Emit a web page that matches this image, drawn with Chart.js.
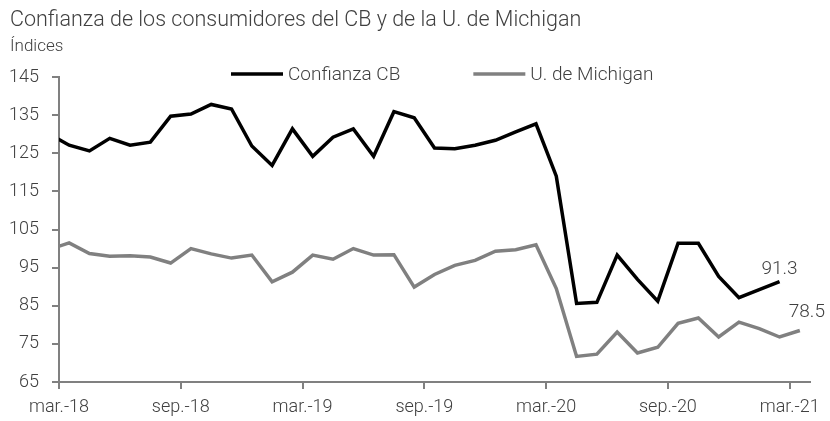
<!DOCTYPE html>
<html>
<head>
<meta charset="utf-8">
<script src="https://cdn.jsdelivr.net/npm/chart.js@4/dist/chart.umd.min.js"></script>
<style>
  body { margin: 0; background: #fff; }
  #wrap { width: 830px; height: 421px; }
</style>
</head>
<body>
<div id="wrap"><canvas id="chart" width="830" height="421"></canvas></div>
<script>
// monthly points, feb-18 .. mar-21 (feb-18 sits just left of the axis and gets clipped)
const months = ['feb.-18', 'mar.-18', 'abr.-18', 'may.-18', 'jun.-18', 'jul.-18', 'ago.-18', 'sep.-18', 'oct.-18', 'nov.-18', 'dic.-18',
  'ene.-19', 'feb.-19', 'mar.-19', 'abr.-19', 'may.-19', 'jun.-19', 'jul.-19', 'ago.-19', 'sep.-19', 'oct.-19', 'nov.-19', 'dic.-19',
  'ene.-20', 'feb.-20', 'mar.-20', 'abr.-20', 'may.-20', 'jun.-20', 'jul.-20', 'ago.-20', 'sep.-20', 'oct.-20', 'nov.-20', 'dic.-20',
  'ene.-21', 'feb.-21', 'mar.-21'];

const confianzaCB = [130.1, 127.1, 125.6, 128.9, 127.1, 127.9, 134.7, 135.3, 137.8, 136.6, 126.9,
  121.8, 131.4, 124.2, 129.2, 131.4, 124.2, 135.9, 134.3, 126.4, 126.2, 127.1, 128.4,
  130.6, 132.7, 119.0, 85.6, 85.9, 98.3, 91.9, 86.2, 101.4, 101.4, 92.7, 87.1,
  89.2, 91.3, null];

const michigan = [99.7, 101.5, 98.7, 98.0, 98.1, 97.8, 96.2, 100.0, 98.6, 97.5, 98.3,
  91.3, 93.8, 98.3, 97.2, 100.0, 98.3, 98.4, 89.9, 93.2, 95.6, 96.9, 99.3,
  99.7, 101.0, 89.5, 71.7, 72.3, 78.1, 72.6, 74.1, 80.4, 81.8, 76.8, 80.7,
  79.0, 76.8, 78.5];

// x ticks fall on month boundaries, every six months from mar.-18
const tickLabels = ['mar.-18', 'sep.-18', 'mar.-19', 'sep.-19', 'mar.-20', 'sep.-20', 'mar.-21'];
const tickValues = [0, 6, 12, 18, 24, 30, 36];

const yTicks = [65, 75, 85, 95, 105, 115, 125, 135, 145];

const TEXT = '#404040';
const AXIS = '#808080';
const FONT = 'Roboto';

// point i is drawn mid-month: half a month after its boundary tick
function toPoints(arr) {
    return arr.map((v, i) => ({ x: i - 0.5, y: v }));
}

const extras = {
    id: 'extras',
    afterDraw(chart) {
        const ctx = chart.ctx;
        ctx.save();
        ctx.fillStyle = TEXT;
        ctx.textBaseline = 'middle';

        // title + units
        ctx.textAlign = 'left';
        ctx.font = '300 21.5px ' + FONT;
        ctx.fillText('Confianza de los consumidores del CB y de la U. de Michigan', 10, 21);
        ctx.font = '300 17px ' + FONT;
        ctx.fillText('Índices', 10, 47);

        // legend
        ctx.font = '300 19px ' + FONT;
        let x = 231;
        const y = 74;
        chart.data.datasets.forEach(ds => {
            ctx.strokeStyle = ds.borderColor;
            ctx.lineWidth = ds.borderWidth;
            ctx.beginPath();
            ctx.moveTo(x, y);
            ctx.lineTo(x + 52, y);
            ctx.stroke();
            ctx.fillStyle = TEXT;
            ctx.fillText(ds.label, x + 57, y + 1);
            x += 57 + ctx.measureText(ds.label).width + 73;
        });

        // last value of each series
        ctx.textAlign = 'center';
        ctx.font = '300 19px ' + FONT;
        const offsets = [[0, -12], [7, -18]];
        chart.data.datasets.forEach((ds, di) => {
            const meta = chart.getDatasetMeta(di);
            let last = ds.data.length - 1;
            while (last >= 0 && ds.data[last].y == null) last--;
            const pt = meta.data[last];
            ctx.fillText(ds.data[last].y.toFixed(1), pt.x + offsets[di][0], pt.y + offsets[di][1]);
        });
        ctx.restore();
    }
};

new Chart(document.getElementById('chart'), {
    type: 'line',
    data: {
        datasets: [{
            label: 'Confianza CB',
            data: toPoints(confianzaCB),
            borderColor: '#000000',
            borderWidth: 3.5,
            pointRadius: 0,
            tension: 0,
            clip: 0
        }, {
            label: 'U. de Michigan',
            data: toPoints(michigan),
            borderColor: '#808080',
            borderWidth: 3.5,
            pointRadius: 0,
            tension: 0,
            clip: 0
        }]
    },
    options: {
        responsive: false,
        animation: false,
        events: [],
        layout: { padding: { top: 77, left: 9, right: 20, bottom: 0 } },
        plugins: {
            legend: { display: false },
            title: { display: false },
            tooltip: { enabled: false }
        },
        scales: {
            x: {
                type: 'linear',
                min: 0,
                max: 37,
                afterBuildTicks: axis => { axis.ticks = tickValues.map(v => ({ value: v })); },
                afterFit: axis => { axis.height = 39; },
                border: { color: AXIS, width: 2 },
                grid: { drawOnChartArea: false, color: AXIS, lineWidth: 2, tickLength: 7 },
                ticks: {
                    color: TEXT,
                    font: { family: FONT, size: 18, weight: '300' },
                    padding: 8,
                    maxRotation: 0,
                    autoSkip: false,
                    callback: v => tickLabels[tickValues.indexOf(v)]
                }
            },
            y: {
                min: 65,
                max: 145,
                afterBuildTicks: axis => { axis.ticks = yTicks.map(v => ({ value: v })); },
                afterFit: axis => { axis.width = 50; },
                border: { color: AXIS, width: 2 },
                grid: { drawOnChartArea: false, color: AXIS, lineWidth: 2, tickLength: 7 },
                ticks: {
                    color: TEXT,
                    font: { family: FONT, size: 18, weight: '300' },
                    padding: 13
                }
            }
        }
    },
    plugins: [extras]
});
</script>
</body>
</html>
